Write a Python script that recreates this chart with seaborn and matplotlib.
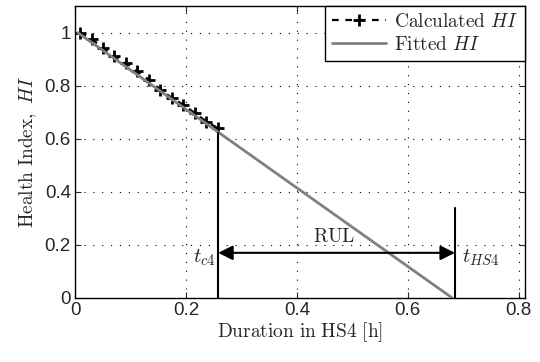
import matplotlib
matplotlib.use("Agg")
import matplotlib.pyplot as plt
import seaborn as sns
import pandas as pd
import numpy as np

# Data
calc_x = [0.009, 0.0297, 0.0504, 0.0711, 0.0918, 0.1125, 0.1332, 0.1539, 0.1746, 0.1953, 0.216, 0.2367, 0.2574]
calc_y = [1.0, 0.977, 0.942, 0.911, 0.886, 0.854, 0.823, 0.785, 0.754, 0.728, 0.697, 0.665, 0.640]
fit_x = [0.005, 0.68]
fit_y = [1.0, 0.0]
t_c4 = 0.258
t_c4_top = 0.62
t_hs4 = 0.685
t_hs4_top = 0.34
rul_y = 0.17
x_ticks = [0, 0.2, 0.4, 0.6, 0.8]
y_ticks = [0, 0.2, 0.4, 0.6, 0.8, 1]

sns.set_style("ticks")
plt.rcParams['font.family'] = ['Liberation Sans', 'DejaVu Sans']
plt.rcParams['mathtext.fontset'] = 'cm'

fig = plt.figure(figsize=(5.4, 3.62), dpi=100)
ax = fig.add_axes([0.139, 0.177, 0.833, 0.806])

df_calc = pd.DataFrame({"x": calc_x, "y": calc_y})
df_fit = pd.DataFrame({"x": fit_x, "y": fit_y})

sns.lineplot(data=df_calc, x="x", y="y", ax=ax, color="black", lw=1.6,
             linestyle=(0, (3, 3)), marker="+", markersize=9, markeredgewidth=2,
             markeredgecolor="black", label=r"$\mathrm{Calculated}\ HI$", zorder=3)
sns.lineplot(data=df_fit, x="x", y="y", ax=ax, color="#808080", lw=2,
             label=r"$\mathrm{Fitted}\ HI$", zorder=4)

ax.plot([t_c4, t_c4], [0, t_c4_top], color="black", lw=1.5, zorder=5)
ax.plot([t_hs4, t_hs4], [0, t_hs4_top], color="black", lw=1.5, zorder=5)
ax.annotate("", xy=(t_hs4, rul_y), xytext=(t_c4, rul_y),
            arrowprops=dict(arrowstyle="<|-|>", mutation_scale=22, lw=1.5, color="black",
                            shrinkA=0, shrinkB=0), zorder=6)
ax.text((t_c4 + t_hs4) / 2 - 0.005, rul_y + 0.025, r"$\mathrm{RUL}$", ha="center", va="bottom", fontsize=14)
ax.text(t_c4 - 0.005, rul_y - 0.02, r"$t_{c4}$", ha="right", va="center", fontsize=15)
ax.text(t_hs4 + 0.012, rul_y - 0.02, r"$t_{HS4}$", ha="left", va="center", fontsize=15)

ax.set_xlim(0, 0.811)
ax.set_ylim(0, 1.1)
ax.set_xticks(x_ticks)
ax.set_xticklabels(["0", "0.2", "0.4", "0.6", "0.8"])
ax.set_yticks(y_ticks)
ax.set_yticklabels(["0", "0.2", "0.4", "0.6", "0.8", "1"])
ax.tick_params(direction="in", top=True, right=True, labelsize=13.5, length=4, width=0.8, pad=3)
ax.grid(True, linestyle=(0, (1, 7)), color="black", lw=0.8)
for s in ax.spines.values():
    s.set_color("black")
    s.set_linewidth(1.0)
ax.set_xlabel(r"$\mathrm{Duration\ in\ HS4\ [h]}$", fontsize=14, labelpad=1)
ax.set_ylabel(r"$\mathrm{Health\ Index,}\ HI$", fontsize=14, labelpad=4)

leg = ax.legend(loc="upper right", fontsize=14, frameon=True, fancybox=False,
                edgecolor="black", framealpha=1, borderaxespad=0, handlelength=2.8,
                borderpad=0.35, labelspacing=0.25, handletextpad=0.4)
leg.get_frame().set_linewidth(1.0)

fig.savefig("out.png", dpi=100)
